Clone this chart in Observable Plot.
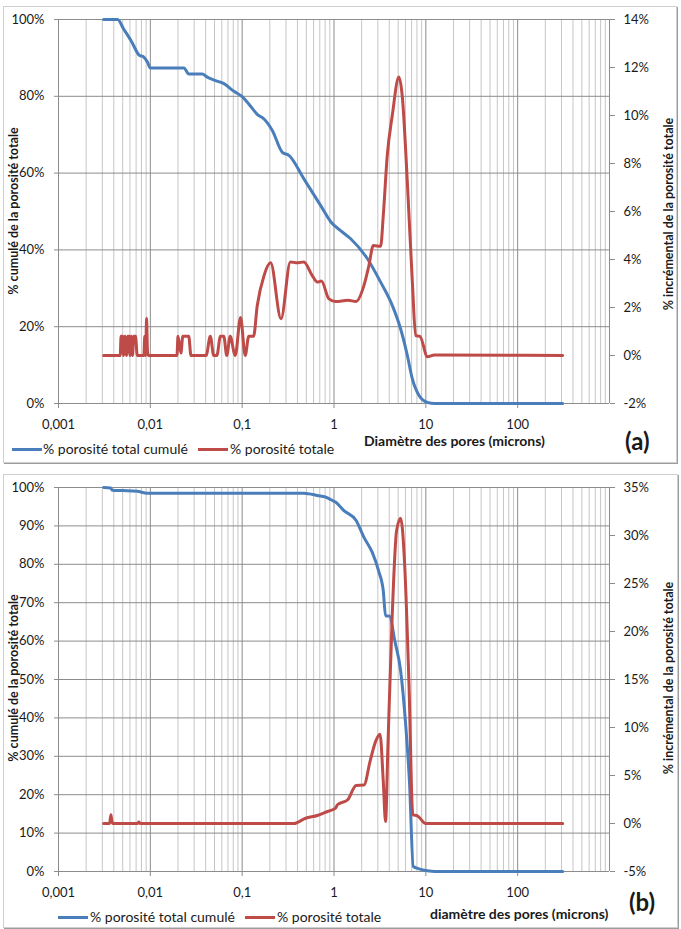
<!DOCTYPE html>
<html><head><meta charset="utf-8">
<script src="https://cdn.jsdelivr.net/npm/d3@7"></script>
<script src="https://cdn.jsdelivr.net/npm/@observablehq/plot@0.6"></script>
<style>
html,body{margin:0;padding:0;background:#fff}
body{width:681px;height:929px;position:relative;overflow:hidden;font-family:Lato,"Open Sans",sans-serif;color:#1a1a1a}
.box{position:absolute;border:1px solid #cfcfcf;box-shadow:1px 1px 0 #9c9c9c;box-sizing:border-box}
.svgwrap{position:absolute;left:0}
.t{position:absolute;white-space:nowrap;line-height:1}
.seg{position:absolute;height:3px;width:30px}
.rot{position:absolute;white-space:nowrap;line-height:1;font-weight:bold;font-size:12.5px;transform:translate(-50%,-50%) rotate(-90deg)}
</style>
</head><body>
<div class="box" style="left:3px;top:6px;width:674px;height:457px"></div>
<div class="box" style="left:3px;top:474px;width:675px;height:454px"></div>
<div id="pa" class="svgwrap" style="top:0px"></div>
<div id="pb" class="svgwrap" style="top:468px"></div>
<script>
// ---------- axis ticks ----------
const xTicks = [0.001, 0.01, 0.1, 1, 10, 100];
const xTickLabels = ["0,001", "0,01", "0,1", "1", "10", "100"];
const xMajorGrid = [0.001, 0.01, 0.1, 1, 10, 100, 1000];
const leftTicksA = [0, 20, 40, 60, 80, 100];
const rightTicksA = [-2, 0, 2, 4, 6, 8, 10, 12, 14];
const leftTicksB = [0, 10, 20, 30, 40, 50, 60, 70, 80, 90, 100];
const rightTicksB = [-5, 0, 5, 10, 15, 20, 25, 30, 35];

// ---------- panel (a) ----------
const cumA_d = [0.0031, 0.0044, 0.0051, 0.0063, 0.0075, 0.0085, 0.0093, 0.0100, 0.0232, 0.0263, 0.0367, 0.0417, 0.0513, 0.0633, 0.0813, 0.100, 0.118, 0.146, 0.173, 0.213, 0.274, 0.323, 0.47, 0.714, 0.93, 1.18, 1.52, 2.31, 3.22, 4.32, 5.32, 6.29, 7.13, 8.43, 10.4, 12.5, 309];
const cumA_v = [100, 100, 97.6, 94.1, 90.8, 90.2, 88.9, 87.4, 87.4, 85.8, 85.8, 85.0, 84.1, 83.3, 81.3, 79.9, 78.0, 75.3, 74.1, 71.1, 65.4, 64.6, 58.5, 51.6, 47.2, 45.0, 42.9, 37.7, 31.6, 25.5, 19.4, 12.5, 6.4, 2.1, 0.3, 0, 0];
const incA_d = [0.0031, 0.0047, 0.0048, 0.0050, 0.0051, 0.0053, 0.0055, 0.0057, 0.0059, 0.0060, 0.0062, 0.0064, 0.0066, 0.0069, 0.0072,
  0.0085, 0.0087, 0.0089, 0.0091, 0.0093, 0.0095,
  0.0195, 0.0200, 0.0215, 0.0226, 0.0232, 0.0262, 0.0277,
  0.0405, 0.0450, 0.0490,
  0.0530, 0.0580, 0.0630, 0.0680, 0.0740, 0.0840, 0.0960, 0.108, 0.118, 0.133,
  0.146, 0.173, 0.204, 0.265, 0.335, 0.398, 0.47, 0.58, 0.66, 0.73, 0.88, 1.04, 1.42, 1.74, 2.12, 2.40, 2.68, 3.22, 3.44, 3.80, 4.31, 5.09, 5.54, 6.29, 7.13, 7.75, 8.63, 10.4, 12.4, 309];
const incA_v = [0, 0, 0.8, 0.8, 0, 0.8, 0, 0.8, 0.8, 0, 0.8, 0, 0.8, 0.8, 0,
  0, 0.8, 0, 1.55, 0.2, 0,
  0, 0.8, 0.1, 0.8, 0.8, 0.8, 0,
  0, 0.8, 0,
  0, 0.8, 0.8, 0, 0.8, 0, 1.58, 0, 0.8, 0.8,
  2.08, 3.33, 3.86, 1.53, 3.9, 3.86, 3.9, 3.33, 3.06, 3.1, 2.36, 2.25, 2.3, 2.25, 2.92, 3.75, 4.58, 4.55, 5.83, 8.33, 10.0, 11.6, 10.8, 7.22, 3.06, 0.83, 0.8, -0.05, 0.02, 0];

// ---------- panel (b) ----------
const cumB_d = [0.0031, 0.0037, 0.00385, 0.0051, 0.0072, 0.0093, 0.47, 0.66, 0.85, 0.93, 1.04, 1.28, 1.74, 2.12, 2.61, 3.06, 3.44, 3.64, 4.03, 4.6, 5.32, 5.99, 6.63, 7.3, 8.43, 10.4, 12.5, 309];
const cumB_v = [100, 99.9, 99.3, 99.2, 99.0, 98.5, 98.5, 97.9, 97.3, 96.8, 96.2, 94.0, 91.4, 87.0, 83.1, 78.3, 73.1, 66.6, 66.5, 60.0, 52.2, 39.2, 23.5, 1.3, 0.7, 0.2, 0, 0];
const incB_d = [0.0031, 0.0036, 0.00372, 0.0038, 0.0039, 0.0072, 0.0075, 0.0078, 0.366, 0.49, 0.66, 0.85, 1.04, 1.09, 1.41, 1.74, 2.12, 2.47, 2.84, 3.17, 3.44, 3.64, 3.86, 4.31, 4.8, 5.32, 5.88, 6.54, 7.22, 8.1, 10.0, 309];
const incB_v = [0, 0, 0.9, 0.3, 0, 0, 0.15, 0, 0, 0.55, 0.83, 1.25, 1.6, 1.95, 2.47, 3.97, 4.0, 6.47, 8.56, 9.3, 4.38, 0.2, 7.9, 21.8, 30.5, 31.8, 27.0, 14.8, 0.9, 0.8, 0, 0];

const BLUE = "#4A7EBB", RED = "#BE4B48";

function minorGrid() {
  const out = [];
  for (let e = -3; e < 3; e++) for (let m = 2; m <= 9; m++) out.push(m * Math.pow(10, e));
  return out;
}

function panel(el, {height, leftTicks, rightTicks, rmin, rmax, cumD, cumV, incD, incV}) {
  const toLeft = r => (r - rmin) / (rmax - rmin) * 100;
  const fromLeft = l => rmin + l / 100 * (rmax - rmin);
  const cum = cumD.map((d, i) => ({d, v: cumV[i]}));
  const inc = incD.map((d, i) => ({d, v: toLeft(incV[i])}));
  const p = Plot.plot({
    width: 681, height,
    marginLeft: 58, marginRight: 72, marginTop: 19, marginBottom: height - 19 - 384,
    x: {type: "log", domain: [0.001, 1000]},
    y: {domain: [0, 100]},
    style: {fontFamily: "Lato, 'Open Sans', sans-serif", fontSize: "13px", background: "transparent", color: "#1a1a1a"},
    marks: [
      Plot.ruleX(minorGrid(), {stroke: "#c6c6c6", strokeWidth: 1}),
      Plot.ruleX(xMajorGrid, {stroke: "#8c8c8c", strokeWidth: 1}),
      Plot.ruleY(leftTicks, {stroke: "#8c8c8c", strokeWidth: 1}),
      Plot.axisX(xTicks, {anchor: "bottom", tickSize: 5, tickPadding: 11, stroke: "#8c8c8c", color: "#1a1a1a",
        tickFormat: d => xTickLabels[xTicks.indexOf(d)], label: null}),
      Plot.axisY(leftTicks, {anchor: "left", tickSize: 4, tickPadding: 10, stroke: "#8c8c8c", color: "#1a1a1a",
        tickFormat: d => `${d}%`, label: null}),
      Plot.axisY(rightTicks.map(toLeft), {anchor: "right", tickSize: 5, tickPadding: 9, stroke: "#8c8c8c", color: "#1a1a1a",
        tickFormat: d => `${Math.round(fromLeft(d))}%`, label: null}),
      Plot.line(cum, {x: "d", y: "v", stroke: BLUE, strokeWidth: 3, curve: "monotone-x"}),
      Plot.line(inc, {x: "d", y: "v", stroke: RED, strokeWidth: 3, curve: "monotone-x"})
    ]
  });
  el.appendChild(p);
}

panel(document.getElementById("pa"), {height: 462, leftTicks: leftTicksA, rightTicks: rightTicksA, rmin: -2, rmax: 14,
  cumD: cumA_d, cumV: cumA_v, incD: incA_d, incV: incA_v});
panel(document.getElementById("pb"), {height: 461, leftTicks: leftTicksB, rightTicks: rightTicksB, rmin: -5, rmax: 35,
  cumD: cumB_d, cumV: cumB_v, incD: incB_d, incV: incB_v});
</script>

<!-- panel (a) texts -->
<div class="rot" style="left:14px;top:211px">% cumulé de la porosité totale</div>
<div class="rot" style="left:669px;top:214px">% incrémental de la porosité totale</div>
<div class="seg" style="left:12px;top:448px;background:#4A7EBB"></div>
<div class="t" style="left:43px;top:442px;font-size:14px">% porosité total cumulé</div>
<div class="seg" style="left:198px;top:448px;background:#BE4B48"></div>
<div class="t" style="left:230px;top:442px;font-size:14px">% porosité totale</div>
<div class="t" style="left:364px;top:434px;font-size:14px;font-weight:bold">Diamètre des pores (microns)</div>
<div class="t" style="left:625px;top:429px;font-size:24px;font-weight:bold">(a)</div>

<!-- panel (b) texts -->
<div class="rot" style="left:14px;top:678px">% cumulé de la porosité totale</div>
<div class="rot" style="left:669px;top:678px">% incrémental de la porosité totale</div>
<div class="seg" style="left:58px;top:916px;background:#4A7EBB"></div>
<div class="t" style="left:90px;top:910px;font-size:14px">% porosité total cumulé</div>
<div class="seg" style="left:245px;top:916px;background:#BE4B48"></div>
<div class="t" style="left:277px;top:910px;font-size:14px">% porosité totale</div>
<div class="t" style="left:430px;top:907px;font-size:14px;font-weight:bold">diamètre des pores (microns)</div>
<div class="t" style="left:629px;top:890px;font-size:24px;font-weight:bold">(b)</div>
</body></html>
